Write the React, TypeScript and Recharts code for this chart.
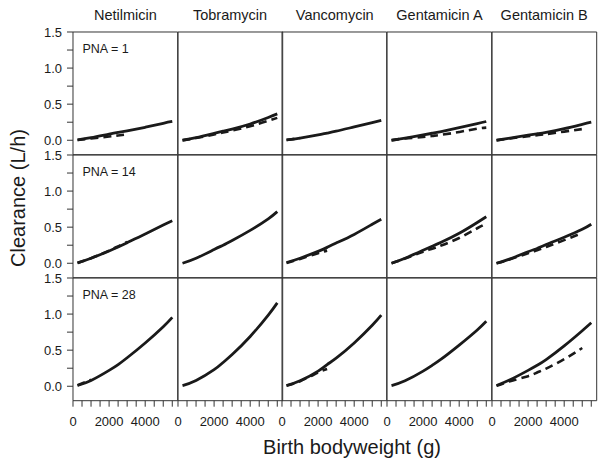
import React from "react";
import { LineChart, Line, XAxis, YAxis, ReferenceArea } from "recharts";

// Birth bodyweight grid (g) shared by every curve.
const WEIGHTS = [250, 1000, 2000, 2500, 3000, 4000, 5000, 5500];
const DRUGS = ["Netilmicin", "Tobramycin", "Vancomycin", "Gentamicin A", "Gentamicin B"];
const PNA_DAYS = [1, 14, 28];
const X_TICKS = [0, 500, 1000, 1500, 2000, 2500, 3000, 3500, 4000, 4500, 5000, 5500];
const Y_TICKS = [0, 0.25, 0.5, 0.75, 1, 1.25, 1.5];

const N = null;

// Clearance (L/h), one row per drug, values at WEIGHTS.
const SOLID_PNA1 = [
  [0.005, 0.035, 0.085, 0.108, 0.13, 0.18, 0.235, 0.26],
  [0.0, 0.035, 0.095, 0.125, 0.155, 0.225, 0.315, 0.365],
  [0.005, 0.03, 0.075, 0.1, 0.125, 0.185, 0.245, 0.275],
  [0.0, 0.03, 0.075, 0.097, 0.12, 0.175, 0.23, 0.26],
  [0.0, 0.03, 0.07, 0.09, 0.11, 0.16, 0.22, 0.25],
];
const DASHED_PNA1 = [
  [0.003, 0.025, 0.052, 0.066, 0.08, N, N, N],
  [0.0, 0.03, 0.08, 0.107, 0.135, 0.195, 0.27, 0.31],
  [0.004, 0.03, N, N, N, N, N, N],
  [0.0, 0.025, 0.045, 0.06, 0.075, 0.115, 0.16, 0.175],
  [0.0, 0.025, 0.055, 0.07, 0.085, 0.12, 0.155, N],
];
const SOLID_PNA14 = [
  [0.005, 0.07, 0.17, 0.225, 0.285, 0.405, 0.53, 0.59],
  [0.0, 0.07, 0.19, 0.25, 0.315, 0.455, 0.615, 0.715],
  [0.01, 0.07, 0.165, 0.22, 0.28, 0.4, 0.54, 0.61],
  [0.0, 0.07, 0.18, 0.235, 0.29, 0.415, 0.565, 0.645],
  [0.0, 0.06, 0.16, 0.205, 0.26, 0.36, 0.47, 0.54],
];
const DASHED_PNA14 = [
  [0.005, 0.07, 0.175, 0.235, 0.295, N, N, N],
  [N, N, N, N, N, N, N, N],
  [0.005, 0.06, 0.14, 0.175, N, N, N, N],
  [0.0, 0.065, 0.16, 0.2, 0.245, 0.35, 0.485, 0.55],
  [0.0, 0.055, 0.14, 0.18, 0.225, 0.32, 0.42, N],
];
const SOLID_PNA28 = [
  [0.01, 0.08, 0.22, 0.3, 0.395, 0.6, 0.825, 0.955],
  [0.01, 0.08, 0.23, 0.33, 0.44, 0.69, 0.985, 1.155],
  [0.01, 0.075, 0.21, 0.3, 0.39, 0.6, 0.845, 0.985],
  [0.01, 0.076, 0.21, 0.29, 0.375, 0.57, 0.78, 0.9],
  [0.01, 0.09, 0.22, 0.29, 0.37, 0.56, 0.77, 0.88],
];
const DASHED_PNA28 = [
  [0.015, 0.09, N, N, N, N, N, N],
  [N, N, N, N, N, N, N, N],
  [0.01, 0.07, 0.19, 0.24, N, N, N, N],
  [N, N, N, N, N, N, N, N],
  [0.005, 0.07, 0.14, 0.19, 0.245, 0.375, 0.53, N],
];

const SOLID = [SOLID_PNA1, SOLID_PNA14, SOLID_PNA28];
const DASHED = [DASHED_PNA1, DASHED_PNA14, DASHED_PNA28];

const FONT = '"Liberation Sans", Arial, Helvetica, sans-serif';
const INK = "#1a1a1a";

// panel geometry (px)
const GRID_LEFT = 73;
const GRID_TOP = 32.3;
const PW = 104.7;
const PH = 122.7;
const YAXIS_W = 45;
const XAXIS_H = 34;
const PAD_L = 14;
const PAD_T = 8;
const PAD_R = 4;
const PAD_B = 4;

function Panel({ r, c }: { r: number; c: number }) {
  const data = WEIGHTS.map((w, i) => ({
    w,
    solid: SOLID[r][c][i],
    dashed: DASHED[r][c][i],
  }));
  const showY = c === 0;
  const showX = r === 2;
  const left = showY ? YAXIS_W : PAD_L;
  const width = PW + left + PAD_R;
  const height = PH + PAD_T + PAD_B + (showX ? XAXIS_H : 0);

  return (
    <div
      style={{
        position: "absolute",
        left: GRID_LEFT + c * PW - left,
        top: GRID_TOP + r * PH - PAD_T,
      }}
    >
      <LineChart
        width={width}
        height={height}
        data={data}
        margin={{ top: PAD_T, right: PAD_R, bottom: PAD_B, left: showY ? 0 : PAD_L }}
      >
        <XAxis
          dataKey="w"
          type="number"
          domain={[0, 5800]}
          allowDataOverflow
          ticks={X_TICKS}
          interval={0}
          tickFormatter={(v) => (v % 2000 === 0 ? String(v) : "")}
          hide={!showX}
          height={XAXIS_H}
          axisLine={false}
          tickLine={{ stroke: "#333" }}
          tickSize={6}
          tickMargin={10}
          tick={{ fontSize: 13, fill: INK, fontFamily: FONT }}
        />
        <YAxis
          type="number"
          domain={[-0.2, 1.5]}
          allowDataOverflow
          ticks={Y_TICKS}
          interval={0}
          tickFormatter={(v) => ((v * 2) % 1 === 0 ? v.toFixed(1) : "")}
          hide={!showY}
          width={YAXIS_W}
          axisLine={false}
          tickLine={{ stroke: "#333" }}
          tickSize={6}
          tickMargin={5}
          tick={{ fontSize: 13, fill: INK, fontFamily: FONT }}
        />
        <ReferenceArea
          x1={0}
          x2={5800}
          y1={-0.2}
          y2={1.5}
          fill="none"
          fillOpacity={0}
          stroke="#333"
          strokeWidth={1}
          ifOverflow="visible"
        />
        <Line
          dataKey="dashed"
          type="natural"
          stroke={INK}
          strokeWidth={2.6}
          strokeDasharray="8 5"
          dot={false}
          connectNulls={false}
          isAnimationActive={false}
        />
        <Line
          dataKey="solid"
          type="natural"
          stroke={INK}
          strokeWidth={2.8}
          dot={false}
          isAnimationActive={false}
        />
      </LineChart>
    </div>
  );
}

export default function App() {
  return (
    <div
      style={{
        position: "absolute",
        left: 0,
        top: 0,
        width: 606,
        height: 468,
        background: "#fff",
        fontFamily: FONT,
        color: INK,
        overflow: "hidden",
      }}
    >
      {DRUGS.map((d, c) => (
        <div
          key={d}
          style={{
            position: "absolute",
            left: GRID_LEFT + c * PW,
            width: PW,
            top: 6,
            height: 18,
            lineHeight: "18px",
            fontSize: 14.5,
            textAlign: "center",
            whiteSpace: "nowrap",
          }}
        >
          {d}
        </div>
      ))}

      {PNA_DAYS.map((_, r) =>
        DRUGS.map((_, c) => <Panel key={`${r}-${c}`} r={r} c={c} />)
      )}

      {PNA_DAYS.map((p, r) => (
        <div
          key={p}
          style={{
            position: "absolute",
            left: 82.5,
            top: GRID_TOP + r * PH + 9,
            height: 16,
            lineHeight: "16px",
            fontSize: 12.5,
            whiteSpace: "nowrap",
          }}
        >
          {`PNA = ${p}`}
        </div>
      ))}

      <div
        style={{
          position: "absolute",
          left: 18 - 100,
          top: 198 - 12,
          width: 200,
          height: 24,
          lineHeight: "24px",
          fontSize: 20,
          textAlign: "center",
          transform: "rotate(-90deg)",
          whiteSpace: "nowrap",
        }}
      >
        Clearance (L/h)
      </div>
      <div
        style={{
          position: "absolute",
          left: 352 - 150,
          top: 447 - 12,
          width: 300,
          height: 24,
          lineHeight: "24px",
          fontSize: 20,
          textAlign: "center",
          whiteSpace: "nowrap",
        }}
      >
        Birth bodyweight (g)
      </div>
    </div>
  );
}
